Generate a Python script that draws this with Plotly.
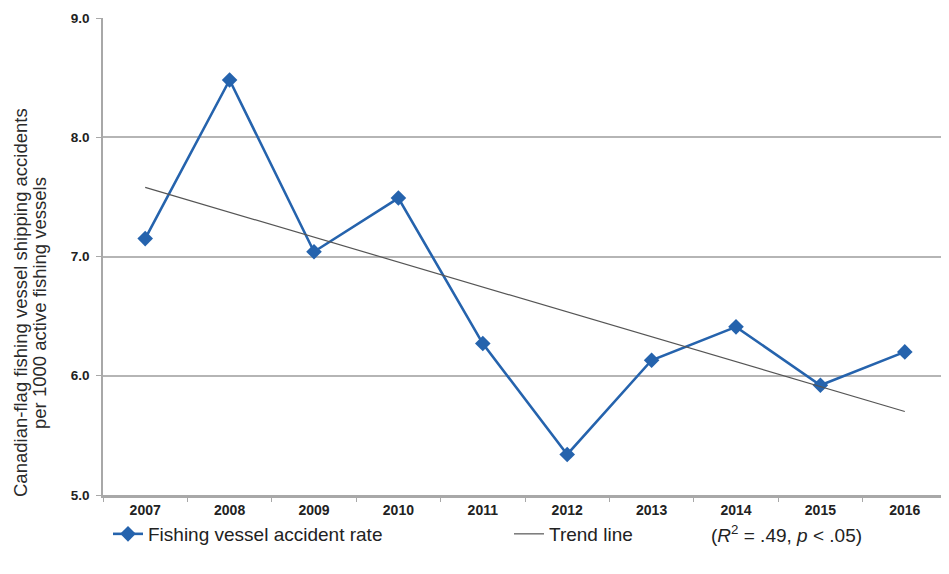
import plotly.graph_objects as go

years = ["2007", "2008", "2009", "2010", "2011", "2012", "2013", "2014", "2015", "2016"]
rate = [7.15, 8.48, 7.04, 7.49, 6.27, 5.34, 6.13, 6.41, 5.92, 6.20]
trend_years = ["2007", "2016"]
trend_vals = [7.58, 5.70]
y_ticks = [5.0, 6.0, 7.0, 8.0, 9.0]
title_lines = ["Canadian-flag fishing vessel shipping accidents", "per 1000 active fishing vessels"]

blue = "#2563ad"
font_family = "Liberation Sans, Arial, sans-serif"
OFF = 8  # page body margin
W, H = 949 - OFF, 574 - OFF
ML, MR, MT, MB = 103 - OFF, 2, 18 - OFF, 574 - 495
PW, PH = W - ML - MR, H - MT - MB


def px_x(vx):
    return (vx - OFF - ML) / PW


def px_y(vy):
    return (H - MB - (vy - OFF)) / PH


fig = go.Figure()
fig.add_trace(go.Scatter(
    x=years, y=rate, mode="lines+markers",
    name="Fishing vessel accident rate",
    line=dict(color=blue, width=2.6),
    marker=dict(symbol="diamond", size=12, color=blue),
))
fig.add_trace(go.Scatter(
    x=trend_years, y=trend_vals, mode="lines",
    name="Trend line",
    line=dict(color="#555555", width=1.2),
))

annotations = [
    dict(text=title_lines[0], xref="paper", yref="paper", x=px_x(20), y=px_y(303),
         xanchor="center", yanchor="middle", textangle=-90, showarrow=False,
         font=dict(size=18.5, color="#2a2a2a")),
    dict(text=title_lines[1], xref="paper", yref="paper", x=px_x(39), y=px_y(303),
         xanchor="center", yanchor="middle", textangle=-90, showarrow=False,
         font=dict(size=18.5, color="#2a2a2a")),
    dict(text="(<i>R</i><sup>2</sup> = .49, <i>p</i> < .05)",
         xref="paper", yref="paper", x=px_x(709), y=px_y(534),
         xanchor="left", yanchor="middle", showarrow=False,
         font=dict(size=19, color="#222222")),
]

fig.update_layout(
    width=W, height=H,
    margin=dict(l=ML, r=MR, t=MT, b=MB, autoexpand=False),
    paper_bgcolor="white", plot_bgcolor="white",
    font=dict(family=font_family, color="#222222"),
    showlegend=True,
    legend=dict(
        orientation="h", x=px_x(108), y=px_y(534), xanchor="left", yanchor="middle",
        font=dict(size=19, color="#222222"),
        entrywidth=356, entrywidthmode="pixels",
        itemwidth=30, tracegroupgap=0, bgcolor="rgba(0,0,0,0)",
    ),
    annotations=annotations,
)
fig.update_xaxes(
    type="category", range=[-0.5, 9.5],
    showgrid=False, showline=True, linecolor="#a8a8a8", linewidth=2.5,
    ticks="outside", tickson="boundaries", ticklen=4, tickcolor="#a8a8a8",
    tickfont=dict(size=14, family=font_family, color="#222222", weight="bold"),
    zeroline=False,
)
fig.update_yaxes(
    range=[5.0, 9.0], tickvals=y_ticks,
    ticktext=[f"{v:.1f}" for v in y_ticks],
    showgrid=True, gridcolor="#b5b5b5", gridwidth=1.8,
    showline=True, linecolor="#a8a8a8", linewidth=1.5,
    ticks="outside", ticklen=5, tickcolor="#a8a8a8", ticklabelstandoff=4,
    tickfont=dict(size=13.5, family=font_family, color="#222222", weight="bold"),
    zeroline=False,
)

fig.write_html("out.html")
